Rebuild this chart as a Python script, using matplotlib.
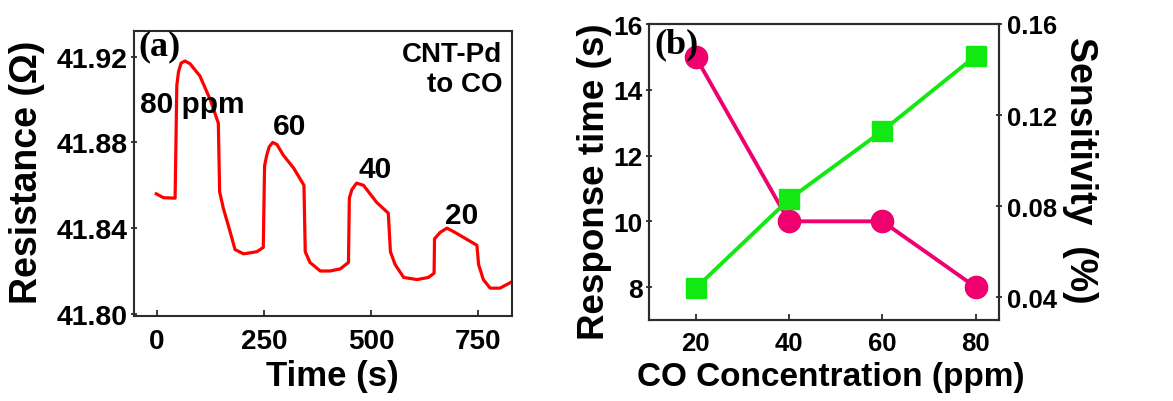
import matplotlib
matplotlib.use("Agg")
import matplotlib.pyplot as plt

# ---------------- data ----------------
# Panel (a): resistance transient of CNT-Pd to CO
time_s = [-2, 15, 42, 46, 50, 56, 65, 77, 100, 124, 143, 146, 155, 171, 182, 202, 233, 248,
          251, 256, 262, 270, 280, 295, 319, 343, 346, 357, 381, 404, 428, 447,
          449, 455, 466, 482, 513, 540, 545, 556, 576, 607, 634, 647,
          648, 661, 677, 696, 747, 751, 762, 778, 801, 829]
resistance = [41.856, 41.8542, 41.854, 41.9066, 41.913, 41.917, 41.918, 41.9167, 41.911,
              41.900, 41.889,
              41.857, 41.849, 41.838, 41.830, 41.828, 41.829, 41.831,
              41.869, 41.874, 41.878, 41.880, 41.879, 41.874, 41.868, 41.860, 41.829, 41.824,
              41.820, 41.820, 41.821, 41.824,
              41.854, 41.858, 41.861, 41.860, 41.852, 41.847, 41.829, 41.823, 41.817, 41.816,
              41.817, 41.819,
              41.835, 41.838, 41.840, 41.838, 41.832, 41.823, 41.816, 41.812, 41.812, 41.815]
a_xticks = [0, 250, 500, 750]
a_yticks = [41.80, 41.84, 41.88, 41.92]
a_ytick_labels = ["41.80", "41.84", "41.88", "41.92"]
peak_labels = ["80 ppm", "60", "40", "20"]
peak_label_t = [-40, 271, 470, 673]
peak_label_r = [41.894, 41.8837, 41.8637, 41.8423]

# Panel (b): response time and sensitivity vs CO concentration
conc_ppm = [20, 40, 60, 80]
response_time = [15, 10, 10, 8]
sensitivity = [0.044, 0.083, 0.113, 0.146]
b_left_ticks = [8, 10, 12, 14, 16]
b_right_ticks = [0.04, 0.08, 0.12, 0.16]
b_right_labels = ["0.04", "0.08", "0.12", "0.16"]

# ---------------- style ----------------
plt.rcParams["font.family"] = ["Liberation Sans", "DejaVu Sans"]
plt.rcParams["font.weight"] = "bold"
SPINE = "#2b2b2b"

W, H = 1173, 402
fig = plt.figure(figsize=(W / 100, H / 100), dpi=100)


def px_axes(l, r, t, b):
    return fig.add_axes([l / W, 1 - b / H, (r - l) / W, (b - t) / H])


def style_spines(ax):
    for s in ax.spines.values():
        s.set_linewidth(1.5)
        s.set_color(SPINE)


# ---------------- panel (a) ----------------
ax1 = px_axes(134, 512, 32, 317)
ax1.plot(time_s, resistance, color="#ff0000", lw=2.3, solid_joinstyle="round")
ax1.set_xlim(-54, 829)
ax1.set_ylim(41.799, 41.932)
ax1.set_xticks(a_xticks)
ax1.set_xticklabels([str(v) for v in a_xticks])
ax1.set_yticks(a_yticks)
ax1.set_yticklabels(a_ytick_labels)
style_spines(ax1)
ax1.tick_params(axis="x", direction="in", length=4, width=1.3, color=SPINE,
                labelsize=20, pad=9)
ax1.tick_params(axis="y", direction="inout", length=5, width=1.3, color=SPINE,
                labelsize=20.5, pad=2)
for lab in ax1.get_xticklabels() + ax1.get_yticklabels():
    lab.set_fontweight("bold")

ax1.text(0.012, 1.005, "(a)", transform=ax1.transAxes, ha="left", va="top",
         family=["Liberation Serif", "DejaVu Serif"], fontweight="bold", fontsize=26)
ax1.text(0.975, 0.965, "CNT-Pd\nto CO", transform=ax1.transAxes, ha="right", va="top",
         fontsize=20, fontweight="bold", linespacing=1.2)
for lab, t, r in zip(peak_labels, peak_label_t, peak_label_r):
    ax1.text(t, r, lab, ha="left", va="baseline", fontsize=21.5, fontweight="bold")

fig.text(27 / W, 1 - 172 / H, "Resistance (\u03a9)", rotation=90, ha="center",
         va="center", fontsize=27, fontweight="bold")
fig.text(332 / W, 1 - 377 / H, "Time (s)", ha="center", va="center",
         fontsize=25, fontweight="bold")

# ---------------- panel (b) ----------------
ax2 = px_axes(649, 999, 25, 321)
ax3 = ax2.twinx()
ax2.plot(conc_ppm, response_time, color="#f0006e", lw=2.8, marker="o",
         markersize=16, zorder=3)
ax3.plot(conc_ppm, sensitivity, color="#12e812", lw=2.8, marker="s",
         markersize=14.5, zorder=3)
ax2.set_xlim(10, 85)
ax2.set_ylim(7, 16)
ax3.set_ylim(0.03, 0.16)
ax2.set_xticks(conc_ppm)
ax2.set_yticks(b_left_ticks)
ax3.set_yticks(b_right_ticks)
ax3.set_yticklabels(b_right_labels)
style_spines(ax2)
style_spines(ax3)
ax2.tick_params(axis="x", direction="in", length=4, width=1.3, color=SPINE,
                labelsize=18.5, pad=8)
ax2.tick_params(axis="y", direction="inout", length=5, width=1.3, color=SPINE,
                labelsize=19, pad=2)
ax3.tick_params(axis="y", direction="inout", length=5, width=1.3, color=SPINE,
                labelsize=18.5, pad=3)
for lab in ax2.get_xticklabels() + ax2.get_yticklabels() + ax3.get_yticklabels():
    lab.set_fontweight("bold")

ax2.text(0.015, 0.99, "(b)", transform=ax2.transAxes, ha="left", va="top",
         family=["Liberation Serif", "DejaVu Serif"], fontweight="bold", fontsize=26,
         zorder=5)

fig.text(594 / W, 1 - 182 / H, "Response time (s)", rotation=90, ha="center",
         va="center", fontsize=26.5, fontweight="bold")
fig.text(1080 / W, 1 - 170 / H, "Sensitivity  (%)", rotation=270, ha="center",
         va="center", fontsize=27, fontweight="bold")
fig.text(831 / W, 1 - 378 / H, "CO Concentration (ppm)", ha="center", va="center",
         fontsize=24, fontweight="bold")

fig.savefig("out.png", dpi=100)
